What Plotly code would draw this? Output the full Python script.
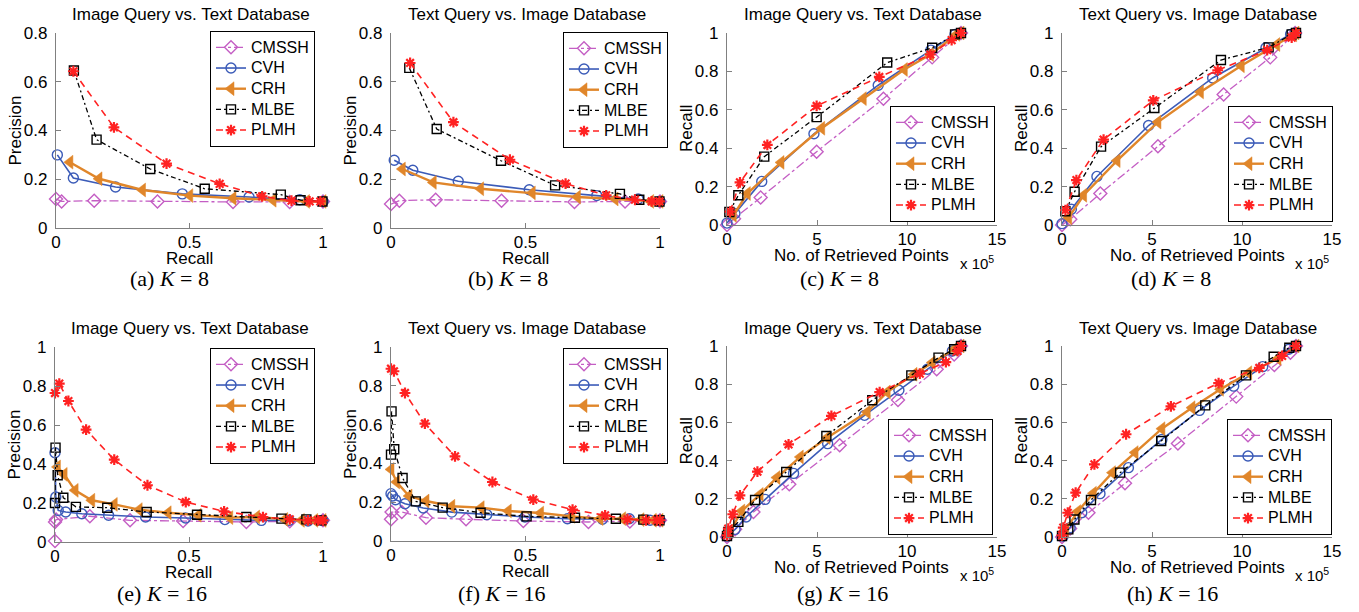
import plotly.graph_objects as go

W, H = 1359, 612

methods = ["CMSSH", "CVH", "CRH", "MLBE", "PLMH"]

# ---------------- (a) Image Query vs. Text Database, K=8 : precision-recall
a_CMSSH_x = [0, 0.021, 0.143, 0.38, 0.663, 0.875, 1.0]
a_CMSSH_y = [0.119, 0.109, 0.112, 0.109, 0.107, 0.107, 0.109]
a_CVH_x = [0.005, 0.065, 0.223, 0.473, 0.723, 0.913, 1.0]
a_CVH_y = [0.30, 0.205, 0.168, 0.14, 0.127, 0.116, 0.109]
a_CRH_x = [0.052, 0.161, 0.324, 0.501, 0.663, 0.813, 0.938, 1.0]
a_CRH_y = [0.27, 0.202, 0.156, 0.133, 0.122, 0.114, 0.109, 0.109]
a_MLBE_x = [0.067, 0.152, 0.353, 0.557, 0.842, 0.916, 0.998]
a_MLBE_y = [0.646, 0.3625, 0.242, 0.161, 0.137, 0.114, 0.109]
a_PLMH_x = [0.065, 0.217, 0.414, 0.613, 0.772, 0.882, 0.95, 0.99]
a_PLMH_y = [0.643, 0.413, 0.264, 0.181, 0.130, 0.112, 0.109, 0.109]

# ---------------- (b) Text Query vs. Image Database, K=8
b_CMSSH_x = [0, 0.031, 0.166, 0.411, 0.682, 0.87, 1.0]
b_CMSSH_y = [0.098, 0.112, 0.116, 0.112, 0.107, 0.109, 0.109]
b_CVH_x = [0.012, 0.081, 0.25, 0.514, 0.765, 0.919, 1.0]
b_CVH_y = [0.278, 0.237, 0.192, 0.157, 0.133, 0.119, 0.109]
b_CRH_x = [0.042, 0.157, 0.333, 0.525, 0.693, 0.833, 0.965, 1.0]
b_CRH_y = [0.242, 0.187, 0.161, 0.144, 0.127, 0.119, 0.109, 0.109]
b_MLBE_x = [0.068, 0.17, 0.409, 0.61, 0.851, 0.923, 0.998]
b_MLBE_y = [0.657, 0.406, 0.276, 0.175, 0.14, 0.116, 0.109]
b_PLMH_x = [0.071, 0.232, 0.442, 0.649, 0.8, 0.907, 0.969, 0.998]
b_PLMH_y = [0.677, 0.434, 0.28, 0.182, 0.134, 0.116, 0.109, 0.109]

# ---------------- (c) Image Query vs. Text Database, K=8 : recall vs retrieved (x 1e5)
c_CMSSH_x = [0, 0.39, 1.87, 4.98, 8.69, 11.4, 13.0]
c_CMSSH_y = [0, 0.033, 0.143, 0.382, 0.658, 0.873, 1.0]
c_CVH_x = [0, 0.44, 1.93, 4.83, 8.4, 11.33, 12.67, 13.0]
c_CVH_y = [0.01, 0.06, 0.227, 0.475, 0.728, 0.911, 0.993, 1.0]
c_CRH_x = [0.35, 1.13, 3.0, 5.26, 7.57, 9.85, 11.3, 12.76, 13.0]
c_CRH_y = [0.05, 0.164, 0.326, 0.504, 0.658, 0.81, 0.888, 0.993, 1.0]
c_MLBE_x = [0.13, 0.63, 2.07, 4.98, 8.9, 11.4, 12.67, 13.0]
c_MLBE_y = [0.068, 0.155, 0.356, 0.562, 0.846, 0.923, 0.993, 1.0]
c_PLMH_x = [0.17, 0.72, 2.24, 4.98, 8.46, 11.3, 12.48, 13.0]
c_PLMH_y = [0.07, 0.222, 0.417, 0.62, 0.771, 0.888, 0.963, 1.0]

# ---------------- (d) Text Query vs. Image Database, K=8
d_CMSSH_x = [0, 0.46, 2.13, 5.33, 8.98, 11.57, 12.95]
d_CMSSH_y = [0, 0.03, 0.164, 0.41, 0.68, 0.873, 1.0]
d_CVH_x = [0, 0.52, 1.94, 4.81, 8.37, 11.33, 12.7, 13.0]
d_CVH_y = [0.007, 0.082, 0.253, 0.518, 0.766, 0.923, 0.993, 1.0]
d_CRH_x = [0.37, 1.2, 3.06, 5.33, 7.69, 9.96, 11.93, 12.87, 13.0]
d_CRH_y = [0.038, 0.155, 0.335, 0.536, 0.693, 0.829, 0.94, 0.99, 1.0]
d_MLBE_x = [0.19, 0.7, 2.17, 5.13, 8.83, 11.48, 12.76, 13.0]
d_MLBE_y = [0.072, 0.173, 0.408, 0.609, 0.859, 0.925, 0.993, 1.0]
d_PLMH_x = [0.19, 0.8, 2.31, 5.07, 8.65, 11.4, 12.76, 13.0]
d_PLMH_y = [0.077, 0.234, 0.445, 0.649, 0.806, 0.911, 0.976, 1.0]

# ---------------- (e) Image Query vs. Text Database, K=16 : precision-recall
e_CMSSH_x = [0, 0, 0.004, 0.13, 0.28, 0.478, 0.714, 0.876, 1.0]
e_CMSSH_y = [0.005, 0.103, 0.115, 0.132, 0.111, 0.108, 0.103, 0.106, 0.111]
e_CVH_x = [0, 0.003, 0.012, 0.04, 0.1, 0.2, 0.338, 0.487, 0.634, 0.77, 0.873, 0.944, 1.0]
e_CVH_y = [0.458, 0.231, 0.162, 0.154, 0.145, 0.137, 0.128, 0.123, 0.115, 0.111, 0.111, 0.108, 0.111]
e_CRH_x = [0.009, 0.034, 0.075, 0.137, 0.221, 0.314, 0.422, 0.534, 0.652, 0.752, 0.857, 0.919, 0.969, 1.0]
e_CRH_y = [0.385, 0.347, 0.265, 0.214, 0.193, 0.166, 0.15, 0.137, 0.125, 0.128, 0.116, 0.111, 0.111, 0.111]
e_MLBE_x = [0, 0.002, 0.01, 0.031, 0.078, 0.195, 0.342, 0.53, 0.714, 0.845, 0.938, 0.994]
e_MLBE_y = [0.2, 0.484, 0.342, 0.227, 0.18, 0.176, 0.154, 0.14, 0.128, 0.12, 0.116, 0.111]
e_PLMH_x = [0, 0.016, 0.05, 0.116, 0.221, 0.345, 0.488, 0.631, 0.776, 0.876, 0.944, 0.981, 1.0]
e_PLMH_y = [0.764, 0.812, 0.723, 0.576, 0.422, 0.291, 0.205, 0.157, 0.128, 0.116, 0.111, 0.111, 0.111]

# ---------------- (f) Text Query vs. Image Database, K=16
f_CMSSH_x = [0, 0.002, 0.04, 0.13, 0.279, 0.492, 0.734, 0.888, 1.0]
f_CMSSH_y = [0.112, 0.149, 0.149, 0.12, 0.112, 0.103, 0.098, 0.101, 0.107]
f_CVH_x = [0, 0.006, 0.017, 0.052, 0.12, 0.226, 0.356, 0.498, 0.656, 0.786, 0.886, 0.963, 1.0]
f_CVH_y = [0.244, 0.232, 0.213, 0.192, 0.17, 0.149, 0.136, 0.124, 0.115, 0.112, 0.115, 0.107, 0.107]
f_CRH_x = [0, 0.021, 0.067, 0.13, 0.226, 0.335, 0.436, 0.556, 0.672, 0.777, 0.861, 0.929, 0.975, 1.0]
f_CRH_y = [0.369, 0.304, 0.232, 0.206, 0.179, 0.172, 0.155, 0.144, 0.127, 0.115, 0.115, 0.11, 0.107, 0.107]
f_MLBE_x = [0, 0.002, 0.012, 0.043, 0.092, 0.192, 0.333, 0.504, 0.684, 0.836, 0.938, 0.998]
f_MLBE_y = [0.445, 0.668, 0.473, 0.325, 0.204, 0.172, 0.146, 0.127, 0.12, 0.115, 0.11, 0.107]
f_PLMH_x = [0, 0.011, 0.052, 0.126, 0.238, 0.377, 0.529, 0.675, 0.796, 0.879, 0.948, 0.988, 1.0]
f_PLMH_y = [0.888, 0.875, 0.763, 0.605, 0.436, 0.304, 0.213, 0.162, 0.132, 0.112, 0.107, 0.107, 0.107]

# ---------------- (g) Image Query vs. Text Database, K=16 : recall vs retrieved (x 1e5)
g_CMSSH_x = [0, 0.45, 1.47, 3.46, 6.26, 9.5, 11.65, 12.62, 13.0]
g_CMSSH_y = [0, 0.04, 0.131, 0.276, 0.48, 0.717, 0.878, 0.956, 1.0]
g_CVH_x = [0, 0.45, 1.06, 2.12, 3.7, 5.59, 7.64, 9.55, 11.13, 12.52, 13.0]
g_CVH_y = [0.005, 0.04, 0.105, 0.197, 0.333, 0.489, 0.637, 0.768, 0.878, 0.974, 1.0]
g_CRH_x = [0.17, 0.82, 1.84, 2.77, 4.07, 5.56, 7.79, 8.9, 10.39, 11.4, 12.62, 13.0]
g_CRH_y = [0.031, 0.136, 0.223, 0.311, 0.419, 0.52, 0.654, 0.759, 0.852, 0.913, 0.983, 1.0]
g_MLBE_x = [0, 0.07, 0.63, 1.56, 3.29, 5.52, 8.07, 10.24, 11.75, 12.62, 13.0]
g_MLBE_y = [0.005, 0.026, 0.079, 0.194, 0.34, 0.529, 0.716, 0.846, 0.939, 0.983, 1.0]
g_PLMH_x = [0, 0.07, 0.32, 0.72, 1.69, 3.42, 5.8, 8.48, 10.71, 12.16, 12.81, 13.0]
g_PLMH_y = [0.009, 0.044, 0.119, 0.218, 0.342, 0.485, 0.634, 0.759, 0.855, 0.916, 0.974, 1.0]

# ---------------- (h) Text Query vs. Image Database, K=16
h_CMSSH_x = [0, 0.45, 1.47, 3.5, 6.44, 9.68, 11.8, 12.69, 13.0]
h_CMSSH_y = [0, 0.044, 0.127, 0.281, 0.49, 0.735, 0.9, 0.965, 1.0]
h_CVH_x = [0.07, 0.45, 1.1, 2.11, 3.69, 5.55, 7.64, 9.54, 11.15, 12.6, 13.0]
h_CVH_y = [0.005, 0.049, 0.127, 0.227, 0.363, 0.511, 0.663, 0.79, 0.892, 0.983, 1.0]
h_CRH_x = [0.2, 0.87, 1.74, 2.8, 4.06, 5.55, 7.22, 8.8, 10.37, 12.0, 13.0]
h_CRH_y = [0.037, 0.133, 0.229, 0.337, 0.442, 0.567, 0.677, 0.773, 0.86, 0.934, 1.0]
h_MLBE_x = [0, 0.35, 0.69, 1.61, 3.23, 5.51, 7.96, 10.22, 11.76, 12.63, 13.0]
h_MLBE_y = [0.005, 0.04, 0.092, 0.194, 0.337, 0.503, 0.689, 0.846, 0.944, 0.991, 1.0]
h_PLMH_x = [0, 0.07, 0.32, 0.76, 1.8, 3.56, 6.05, 8.7, 10.96, 12.23, 13.0]
h_PLMH_y = [0.009, 0.049, 0.127, 0.232, 0.38, 0.538, 0.684, 0.806, 0.885, 0.948, 1.0]

titles = ["Image Query vs. Text Database", "Text Query vs. Image Database"] * 4
captions = ["(a)", "(b)", "(c)", "(d)", "(e)", "(f)", "(g)", "(h)"]
k_values = [8, 8, 8, 8, 16, 16, 16, 16]

panel_data = {
    "a": [(a_CMSSH_x, a_CMSSH_y), (a_CVH_x, a_CVH_y), (a_CRH_x, a_CRH_y), (a_MLBE_x, a_MLBE_y), (a_PLMH_x, a_PLMH_y)],
    "b": [(b_CMSSH_x, b_CMSSH_y), (b_CVH_x, b_CVH_y), (b_CRH_x, b_CRH_y), (b_MLBE_x, b_MLBE_y), (b_PLMH_x, b_PLMH_y)],
    "c": [(c_CMSSH_x, c_CMSSH_y), (c_CVH_x, c_CVH_y), (c_CRH_x, c_CRH_y), (c_MLBE_x, c_MLBE_y), (c_PLMH_x, c_PLMH_y)],
    "d": [(d_CMSSH_x, d_CMSSH_y), (d_CVH_x, d_CVH_y), (d_CRH_x, d_CRH_y), (d_MLBE_x, d_MLBE_y), (d_PLMH_x, d_PLMH_y)],
    "e": [(e_CMSSH_x, e_CMSSH_y), (e_CVH_x, e_CVH_y), (e_CRH_x, e_CRH_y), (e_MLBE_x, e_MLBE_y), (e_PLMH_x, e_PLMH_y)],
    "f": [(f_CMSSH_x, f_CMSSH_y), (f_CVH_x, f_CVH_y), (f_CRH_x, f_CRH_y), (f_MLBE_x, f_MLBE_y), (f_PLMH_x, f_PLMH_y)],
    "g": [(g_CMSSH_x, g_CMSSH_y), (g_CVH_x, g_CVH_y), (g_CRH_x, g_CRH_y), (g_MLBE_x, g_MLBE_y), (g_PLMH_x, g_PLMH_y)],
    "h": [(h_CMSSH_x, h_CMSSH_y), (h_CVH_x, h_CVH_y), (h_CRH_x, h_CRH_y), (h_MLBE_x, h_MLBE_y), (h_PLMH_x, h_PLMH_y)],
}

# ---------------- styles
styles = {
    "CMSSH": dict(color="#c45ec4", dash="dashdot", width=1.3, symbol="diamond-open", size=10, mlw=1.4),
    "CVH": dict(color="#3b5bb8", dash="solid", width=1.6, symbol="circle-open", size=10, mlw=1.4),
    "CRH": dict(color="#e0862a", dash="solid", width=2.4, symbol="triangle-left", size=12, mlw=0.5),
    "MLBE": dict(color="#000000", dash="5px,3px,2px,3px", width=1.3, symbol="square-open", size=9, mlw=1.4),
    "PLMH": dict(color="#ff2222", dash="7px,5px", width=1.6, symbol="asterisk-open", size=9, mlw=2.2),
}

# target pixel boxes of each axes in the page: (x0, x1, ytop, ybottom)
boxes = [
    (56, 323, 33, 228), (391, 660, 33, 228), (727, 997, 33, 225), (1062, 1332, 33, 225),
    (55, 323, 347, 542), (391, 660, 347, 541), (727, 997, 346, 537), (1062, 1332, 346, 537),
]
# legend anchors: (x_right, y, yanchor)
legend_pos = [
    (315, 31, "top"), (668, 32, "top"), (995, 222, "bottom"), (1333, 222, "bottom"),
    (315, 348, "top"), (668, 348, "top"), (993, 535, "bottom"), (1332, 535, "bottom"),
]
title_y = [14, 14, 14, 14, 328, 328, 328, 328]
caption_x = [169, 508, 839, 1171, 162, 502, 843, 1172]
caption_y = [279, 279, 279, 279, 593, 593, 593, 593]

FONT = "Liberation Sans"
SERIF = "Liberation Serif"


def PX(px):
    return px / W


def PY(py):
    return 1 - py / H


fig = go.Figure()
layout = dict(width=W, height=H, margin=dict(l=0, r=0, t=0, b=0, pad=0, autoexpand=False),
              paper_bgcolor="white", plot_bgcolor="white", showlegend=True)
annotations = []

for i, key in enumerate("abcdefgh"):
    n = i + 1
    xs = "" if n == 1 else str(n)
    x0, x1, yt, yb = boxes[i]
    pr = key in "abef"
    if pr:
        xr, xdt = [0, 1], 0.5
        yr = [0, 0.8] if key in "ab" else [0, 1]
    else:
        xr, xdt = [0, 15], 5
        yr = [0, 1]
    common = dict(showline=True, linecolor="#808080", linewidth=1.3, ticks="inside", ticklen=5,
                  tickcolor="#808080", tickwidth=1, showgrid=False, zeroline=False, fixedrange=True,
                  automargin=False, tickfont=dict(family=FONT, size=17, color="black"))
    layout["xaxis" + xs] = dict(domain=[PX(x0), PX(x1)], range=xr, dtick=xdt, tick0=0,
                                anchor="y" + xs, ticklabelstandoff=-2, **common)
    layout["yaxis" + xs] = dict(domain=[PY(yb), PY(yt)], range=yr, dtick=0.2, tick0=0,
                                anchor="x" + xs, ticklabelstandoff=4, **common)
    lg = "legend" if n == 1 else "legend" + str(n)
    lx, ly, ya = legend_pos[i]
    layout[lg] = dict(x=PX(lx), y=PY(ly), xanchor="right", yanchor=ya, bgcolor="white",
                      bordercolor="black", borderwidth=1, font=dict(family=FONT, size=13.6, color="black"),
                      tracegroupgap=0, itemwidth=30)
    for m, (xv, yv) in zip(methods, panel_data[key]):
        s = styles[m]
        fig.add_trace(go.Scatter(
            x=xv, y=yv, name=f'<span style="font-size:16px">{m}</span>', mode="lines+markers",
            xaxis="x" + xs, yaxis="y" + xs, legend=lg, cliponaxis=False,
            line=dict(color=s["color"], dash=s["dash"], width=s["width"]),
            marker=dict(symbol=s["symbol"], size=s["size"], color=s["color"],
                        line=dict(color=s["color"], width=s["mlw"])),
        ))
    cx = (x0 + x1) / 2
    # title
    annotations.append(dict(x=PX(cx + 1), y=PY(title_y[i]), xref="paper", yref="paper", showarrow=False,
                            text=titles[i], font=dict(family=FONT, size=17, color="black"),
                            xanchor="center", yanchor="middle"))
    # x-axis title
    xt = "Recall" if pr else "No. of Retrieved Points"
    annotations.append(dict(x=PX(cx), y=PY(yb + 30), xref="paper", yref="paper", showarrow=False,
                            text=xt, font=dict(family=FONT, size=17, color="black"),
                            xanchor="center", yanchor="middle"))
    # y-axis title
    yt_text = "Precision" if pr else "Recall"
    annotations.append(dict(x=PX(x0 - 41), y=PY((yt + yb) / 2), xref="paper", yref="paper",
                            showarrow=False, text=yt_text, textangle=-90,
                            font=dict(family=FONT, size=17, color="black"),
                            xanchor="center", yanchor="middle"))
    if not pr:
        annotations.append(dict(x=PX(x1 - 20), y=PY(yb + 37), xref="paper", yref="paper",
                                showarrow=False, text="x 10<sup>5</sup>",
                                font=dict(family=FONT, size=15, color="black"),
                                xanchor="center", yanchor="middle"))
    # caption
    annotations.append(dict(x=PX(caption_x[i]), y=PY(caption_y[i]), xref="paper", yref="paper",
                            showarrow=False,
                            text=f"{captions[i]} <i>K</i> = {k_values[i]}",
                            font=dict(family=SERIF, size=22, color="black"),
                            xanchor="center", yanchor="middle"))

layout["annotations"] = annotations
fig.update_layout(**layout)
# remove the default page margin so the figure sits at the top-left corner of the window
fig.write_html("out.html", config={"displayModeBar": False},
               post_script="document.body.style.margin='0';")
